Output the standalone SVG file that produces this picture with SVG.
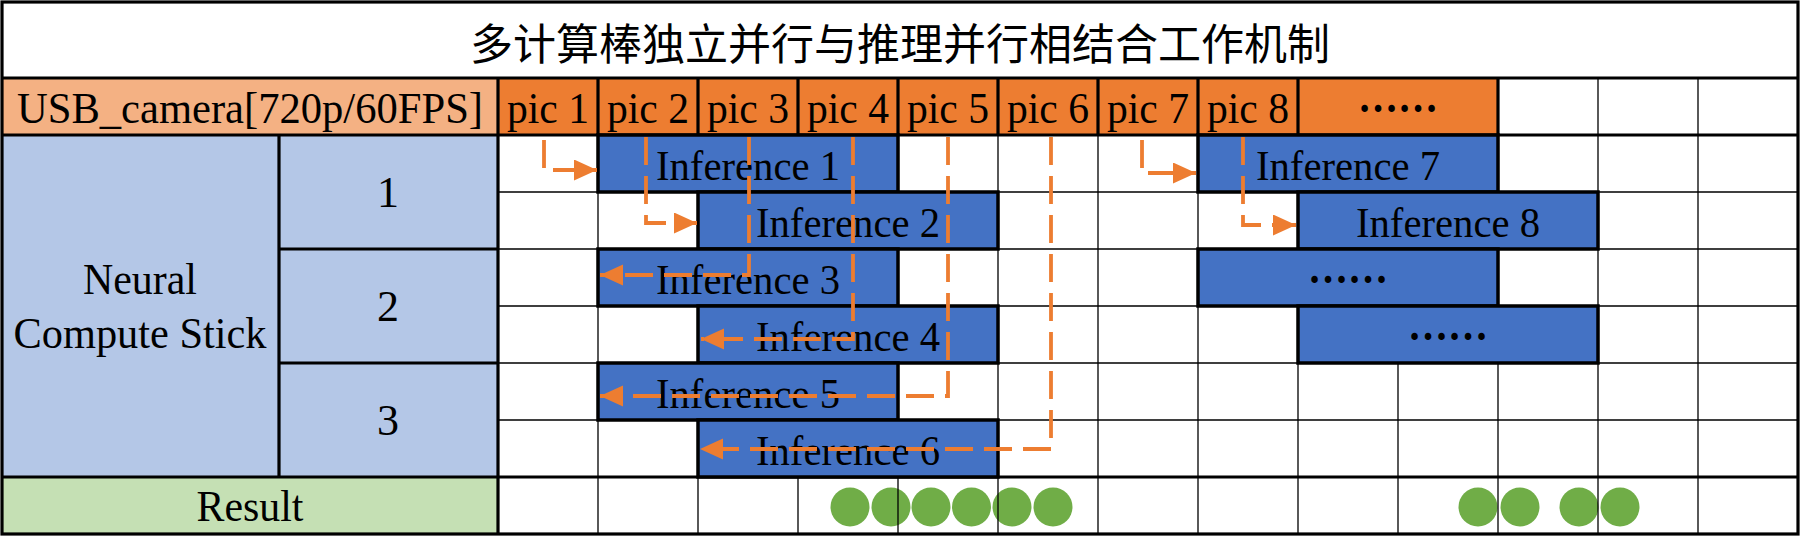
<svg xmlns="http://www.w3.org/2000/svg" width="1802" height="538" viewBox="0 0 1802 538">
<style>
.t{font-family:"Liberation Serif","Times New Roman",serif;font-size:44px;fill:#000;text-anchor:middle}
.ti{font-size:43px}
.el{font-weight:bold}
.cjk{font-family:"Liberation Serif","Noto Sans CJK SC",sans-serif;font-size:43px;fill:#000;text-anchor:middle}
.thin{stroke:#000;stroke-width:1.3;fill:none}
.thick{stroke:#000;stroke-width:3.2;fill:none}
.bar{fill:#4472C4;stroke:#000;stroke-width:3.5}
.pic{fill:#ED7D31}
.conn{fill:none;stroke:#ED7D31;stroke-width:3.8;stroke-dasharray:28 11}
.dot{fill:#70AD47}
</style>
<defs>
<marker id="ah" markerUnits="userSpaceOnUse" markerWidth="24" markerHeight="22" refX="23" refY="10.5" orient="auto">
<path d="M0,0 L23,10.5 L0,21 Z" fill="#ED7D31"/>
</marker>
</defs>
<rect x="0" y="0" width="1802" height="538" fill="#fff"/>

<g id="title">
<text class="cjk" x="900" y="60">多计算棒独立并行与推理并行相结合工作机制</text>
</g>

<g id="header-usb">
<rect x="2" y="78" width="496" height="57" fill="#F4B183"/>
<text class="t" x="250" y="123" textLength="466" lengthAdjust="spacingAndGlyphs">USB_camera[720p/60FPS]</text>
</g>
<g id="pic-1"><rect class="pic" x="498" y="78" width="100" height="57"/><text class="t" x="548" y="123" textLength="82" lengthAdjust="spacingAndGlyphs">pic 1</text></g>
<g id="pic-2"><rect class="pic" x="598" y="78" width="100" height="57"/><text class="t" x="648" y="123" textLength="82" lengthAdjust="spacingAndGlyphs">pic 2</text></g>
<g id="pic-3"><rect class="pic" x="698" y="78" width="100" height="57"/><text class="t" x="748" y="123" textLength="82" lengthAdjust="spacingAndGlyphs">pic 3</text></g>
<g id="pic-4"><rect class="pic" x="798" y="78" width="100" height="57"/><text class="t" x="848" y="123" textLength="82" lengthAdjust="spacingAndGlyphs">pic 4</text></g>
<g id="pic-5"><rect class="pic" x="898" y="78" width="100" height="57"/><text class="t" x="948" y="123" textLength="82" lengthAdjust="spacingAndGlyphs">pic 5</text></g>
<g id="pic-6"><rect class="pic" x="998" y="78" width="100" height="57"/><text class="t" x="1048" y="123" textLength="82" lengthAdjust="spacingAndGlyphs">pic 6</text></g>
<g id="pic-7"><rect class="pic" x="1098" y="78" width="100" height="57"/><text class="t" x="1148" y="123" textLength="82" lengthAdjust="spacingAndGlyphs">pic 7</text></g>
<g id="pic-8"><rect class="pic" x="1198" y="78" width="100" height="57"/><text class="t" x="1248" y="123" textLength="82" lengthAdjust="spacingAndGlyphs">pic 8</text></g>
<g id="pic-more"><rect class="pic" x="1298" y="78" width="200" height="57"/><text class="t el" x="1398" y="112" textLength="80" lengthAdjust="spacingAndGlyphs">……</text></g>

<g id="ncs">
<rect x="2" y="135" width="277" height="342" fill="#B4C7E7"/>
<text class="t" x="140" y="294" textLength="114" lengthAdjust="spacingAndGlyphs">Neural</text>
<text class="t" x="140" y="348" textLength="253" lengthAdjust="spacingAndGlyphs">Compute Stick</text>
</g>
<g id="ncs-1"><rect x="279" y="135" width="219" height="114" fill="#B4C7E7"/><text class="t" x="388" y="207">1</text></g>
<g id="ncs-2"><rect x="279" y="249" width="219" height="114" fill="#B4C7E7"/><text class="t" x="388" y="321">2</text></g>
<g id="ncs-3"><rect x="279" y="363" width="219" height="114" fill="#B4C7E7"/><text class="t" x="388" y="435">3</text></g>
<g id="result">
<rect x="2" y="477" width="496" height="57" fill="#C5E0B4"/>
<text class="t" x="250" y="521" textLength="107" lengthAdjust="spacingAndGlyphs">Result</text>
</g>

<g id="result-dots">
<circle class="dot" cx="850" cy="507" r="19.5"/>
<circle class="dot" cx="891" cy="507" r="19.5"/>
<circle class="dot" cx="931" cy="507" r="19.5"/>
<circle class="dot" cx="971.5" cy="507" r="19.5"/>
<circle class="dot" cx="1012" cy="507" r="19.5"/>
<circle class="dot" cx="1053" cy="507" r="19.5"/>
<circle class="dot" cx="1478" cy="507" r="19.5"/>
<circle class="dot" cx="1520" cy="507" r="19.5"/>
<circle class="dot" cx="1579" cy="507" r="19.5"/>
<circle class="dot" cx="1620" cy="507" r="19.5"/>
</g>

<g id="grid">
<path class="thin" d="M498,192H1798M498,249H1798M498,306H1798M498,363H1798M498,420H1798"/>
<path class="thin" d="M598,135V534M698,135V534M798,135V534M898,135V534M998,135V534M1098,135V534M1198,135V534M1298,135V534M1398,135V534M1498,135V534M1598,78V534M1698,78V534"/>
<path class="thick" d="M598,78V135M698,78V135M798,78V135M898,78V135M998,78V135M1098,78V135M1198,78V135M1298,78V135M1498,78V135"/>
<path class="thick" d="M2,78H1798M2,135H1798M2,477H1798M498,78V534M279,135V477M279,249H498M279,363H498"/>
<rect class="thick" x="2" y="2" width="1796" height="532" stroke-width="3.6"/>
</g>

<g id="inf-1"><rect class="bar" x="598" y="135" width="300" height="57"/><text class="t ti" x="748" y="180" textLength="184" lengthAdjust="spacingAndGlyphs">Inference 1</text></g>
<g id="inf-2"><rect class="bar" x="698" y="192" width="300" height="57"/><text class="t ti" x="848" y="236.5" textLength="184" lengthAdjust="spacingAndGlyphs">Inference 2</text></g>
<g id="inf-3"><rect class="bar" x="598" y="249" width="300" height="57"/><text class="t ti" x="748" y="293.5" textLength="184" lengthAdjust="spacingAndGlyphs">Inference 3</text></g>
<g id="inf-4"><rect class="bar" x="698" y="306" width="300" height="57"/><text class="t ti" x="848" y="350.5" textLength="184" lengthAdjust="spacingAndGlyphs">Inference 4</text></g>
<g id="inf-5"><rect class="bar" x="598" y="363" width="300" height="57"/><text class="t ti" x="748" y="407.5" textLength="184" lengthAdjust="spacingAndGlyphs">Inference 5</text></g>
<g id="inf-6"><rect class="bar" x="698" y="420" width="300" height="57"/><text class="t ti" x="848" y="464.5" textLength="184" lengthAdjust="spacingAndGlyphs">Inference 6</text></g>
<g id="inf-7"><rect class="bar" x="1198" y="135" width="300" height="57"/><text class="t ti" x="1348" y="180" textLength="184" lengthAdjust="spacingAndGlyphs">Inference 7</text></g>
<g id="inf-8"><rect class="bar" x="1298" y="192" width="300" height="57"/><text class="t ti" x="1448" y="236.5" textLength="184" lengthAdjust="spacingAndGlyphs">Inference 8</text></g>
<g id="inf-more-1"><rect class="bar" x="1198" y="249" width="300" height="57"/><text class="t el" x="1348" y="283" textLength="80" lengthAdjust="spacingAndGlyphs">……</text></g>
<g id="inf-more-2"><rect class="bar" x="1298" y="306" width="300" height="57"/><text class="t el" x="1448" y="340" textLength="80" lengthAdjust="spacingAndGlyphs">……</text></g>

<g id="connectors">
<path class="conn" d="M544,140V170H597" marker-end="url(#ah)"/>
<path class="conn" d="M646,137V223H697" marker-end="url(#ah)"/>
<path class="conn" d="M749,137V275H600" marker-end="url(#ah)"/>
<path class="conn" d="M853,137V339H701" marker-end="url(#ah)"/>
<path class="conn" d="M948,137V396H600" marker-end="url(#ah)"/>
<path class="conn" d="M1051,137V449H700" marker-end="url(#ah)"/>
<path class="conn" d="M1142,140V173H1196" marker-end="url(#ah)"/>
<path class="conn" d="M1243,137V225H1296" marker-end="url(#ah)"/>
</g>
</svg>
